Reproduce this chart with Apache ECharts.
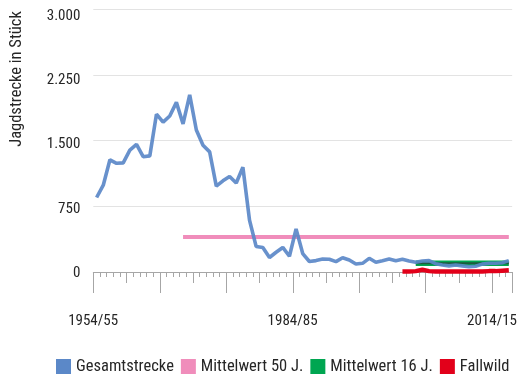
<!DOCTYPE html>
<html>
<head>
<meta charset="utf-8">
<style>
  html, body { margin: 0; padding: 0; background: #ffffff; }
  #chart { width: 520px; height: 378px; }
</style>
<script src="https://cdn.jsdelivr.net/npm/echarts@6/dist/echarts.min.js"></script>
</head>
<body>
<div id="chart"></div>
<script>
// Hunting seasons 1954/55 to 2016/17
const firstSeason = 1954;
const lastSeason = 2016;
const seasons = [];
for (let y = firstSeason; y <= lastSeason; y++) {
  seasons.push(y + '/' + String((y + 1) % 100).padStart(2, '0'));
}

// Total bag per season (Gesamtstrecke)
const total = [
  850, 990, 1280, 1240, 1245, 1390, 1455, 1315, 1325, 1800,
  1710, 1780, 1935, 1690, 2020, 1620, 1445, 1370, 980, 1040,
  1090, 1015, 1195, 590, 290, 280, 165, 225, 280, 180,
  490, 210, 120, 130, 148, 145, 118, 163, 137, 91,
  99, 156, 111, 129, 148, 129, 145, 125, 110, 125,
  130, 95, 80, 70, 80, 70, 60, 65, 90, 100,
  100, 105, 130
];

// Long-term means
const mean50Value = 398;
const mean50From = '1967/68';
const mean16Value = 100;
const mean16From = '2002/03';

// Found dead (Fallwild), recorded from 2000/01
const fallwildFrom = '2000/01';
const fallwild = [5, 5, 10, 25, 10, 5, 5, 5, 5, 5, 5, 5, 5, 10, 10, 15, 20];

const yTicks = [0, 750, 1500, 2250, 3000];
const tickLabels = ['1954/55', '1984/85', '2014/15'];

const FONT = '"Roboto Condensed", "Liberation Sans Narrow", "DejaVu Sans Condensed", Roboto, sans-serif';
const TEXT = '#262626';

function flatFrom(from, value) {
  const start = seasons.indexOf(from);
  return seasons.map((s, i) => (i >= start ? value : null));
}
function seriesFrom(from, values) {
  const start = seasons.indexOf(from);
  return seasons.map((s, i) => (i >= start && i - start < values.length ? values[i - start] : null));
}

const mean50 = flatFrom(mean50From, mean50Value);
const mean16 = flatFrom(mean16From, mean16Value);
const fallwildData = seriesFrom(fallwildFrom, fallwild);

// Yearly, 5-year and 10-year ticks are drawn by three stacked category axes
function tickAxis(every, len, withLabels) {
  return {
    type: 'category',
    gridIndex: 0,
    position: 'bottom',
    offset: 0,
    data: seasons,
    boundaryGap: true,
    axisLine: { show: withLabels, lineStyle: { color: '#a6a6a6', width: 1 } },
    axisTick: {
      show: true,
      length: len,
      interval: (i) => i % every === 0,
      lineStyle: { color: '#a6a6a6', width: 1 }
    },
    axisLabel: withLabels ? {
      show: true,
      interval: (i, v) => tickLabels.indexOf(v) >= 0,
      margin: 42,
      padding: [0, 7, 0, 0],
      fontFamily: FONT,
      fontSize: 15,
      color: TEXT
    } : { show: false },
    splitLine: { show: false }
  };
}

const chart = echarts.init(document.getElementById('chart'), null, { renderer: 'canvas' });

chart.setOption({
  animation: false,
  backgroundColor: '#ffffff',
  grid: [
    { left: 93.3, right: 4.9, top: 9, bottom: 106 },
    { left: 93.3, right: 4.9, top: 16, bottom: 105 }
  ],
  xAxis: [
    tickAxis(1, 5, true),
    tickAxis(5, 11, false),
    tickAxis(10, 21, false),
    { type: 'category', gridIndex: 1, data: seasons, show: false }
  ],
  yAxis: [
    {
      type: 'value', gridIndex: 0, min: 0, max: 3000, interval: 750,
      axisLine: { show: false }, axisTick: { show: false }, axisLabel: { show: false },
      splitLine: { show: true, lineStyle: { color: '#e3e3e3', width: 1 } }
    },
    {
      type: 'value', gridIndex: 1, min: 0, max: 3000, interval: 750,
      axisLine: { show: false }, axisTick: { show: false }, splitLine: { show: false },
      axisLabel: {
        show: true, margin: 13, fontFamily: FONT, fontSize: 15, color: TEXT,
        formatter: (v) => yTicks.indexOf(v) >= 0 ? v.toLocaleString('de-DE') : ''
      }
    }
  ],
  legend: {
    data: ['Gesamtstrecke', 'Mittelwert 50 J.', 'Mittelwert 16 J.', 'Fallwild'],
    left: 56,
    top: 358,
    width: 470,
    padding: 0,
    icon: 'rect',
    itemWidth: 15,
    itemHeight: 15,
    itemGap: 7,
    textStyle: { fontFamily: FONT, fontSize: 16.5, color: TEXT },
    selectedMode: false
  },
  graphic: [{
    type: 'text',
    x: 17,
    y: 79,
    rotation: Math.PI / 2,
    style: {
      text: 'Jagdstrecke in Stück',
      font: '16.5px ' + FONT,
      fill: TEXT,
      align: 'center',
      verticalAlign: 'middle'
    }
  }],
  series: [
    {
      name: 'Mittelwert 50 J.', type: 'line', data: mean50, symbol: 'none',
      color: '#f08dbb', lineStyle: { width: 4, color: '#f08dbb' }
    },
    {
      name: 'Mittelwert 16 J.', type: 'line', data: mean16, symbol: 'none',
      color: '#00a651', lineStyle: { width: 5.5, color: '#00a651' }
    },
    {
      name: 'Mittelwert 16 J. Kern', type: 'line', data: mean16, symbol: 'none', silent: true,
      lineStyle: { width: 2, color: '#1d5a3e' }
    },
    {
      name: 'Fallwild', type: 'line', data: fallwildData, symbol: 'none',
      color: '#e2001a', lineStyle: { width: 4.5, color: '#e2001a' }
    },
    {
      name: 'Gesamtstrecke', type: 'line', data: total, symbol: 'none',
      color: '#5b88c8', lineStyle: { width: 3.6, color: '#5b88c8', opacity: 0.92 }
    }
  ]
});
</script>
</body>
</html>
